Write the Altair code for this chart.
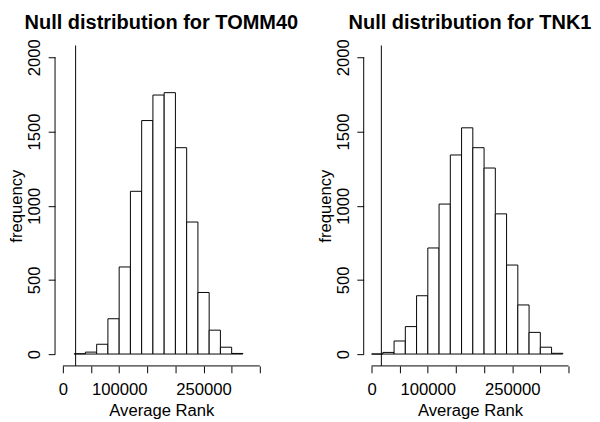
import altair as alt
import pandas as pd

# ---- data ----
bin_width = 20000
tomm40_bin_start = 20000
tomm40_counts = [2, 13, 66, 238, 587, 1097, 1574, 1746, 1762, 1391, 890, 415, 161, 46, 4]
tnk1_bin_start = 0
tnk1_counts = [0, 11, 88, 185, 393, 715, 1011, 1342, 1525, 1391, 1254, 945, 600, 331, 146, 46, 5]
tomm40_observed = 22600
tnk1_observed = 17400
titles = ["Null distribution for TOMM40", "Null distribution for TNK1"]
x_ticks = [0, 50000, 100000, 150000, 200000, 250000, 300000, 350000]
x_labels_shown = [0, 100000, 250000]
y_ticks = [0, 500, 1000, 1500, 2000]
x_title = "Average Rank"
y_title = "frequency"

FONT = "Liberation Sans"
X_DOM = [-14000, 364000]
Y_DOM = [-80, 2080]
W, H = 217, 327


def panel(title, start, counts, observed):
    x0 = [start + i * bin_width for i in range(len(counts))]
    df = pd.DataFrame({"x0": x0, "x1": [v + bin_width for v in x0],
                       "base": [0] * len(counts), "count": counts})
    xs = alt.Scale(domain=X_DOM, nice=False, zero=False)
    ys = alt.Scale(domain=Y_DOM, nice=False, zero=False)
    cond = " || ".join(f"datum.value == {v}" for v in x_labels_shown)
    xaxis = alt.Axis(values=x_ticks, format="d", labelExpr=f"({cond}) ? datum.label : ''",
                     grid=False, domain=False, tickSize=7, tickColor="black", tickWidth=1,
                     labelAlign="center", labelBaseline="top", labelAngle=0,
                     labelPadding=9, labelFont=FONT, labelFontSize=17, labelColor="black",
                     labelFlush=False, labelOverlap=False,
                     title=x_title, titleFont=FONT, titleFontSize=17, titleFontWeight="normal",
                     titleColor="black", titlePadding=6)
    yaxis = alt.Axis(values=y_ticks, format="d", grid=False, domain=False, tickSize=7,
                     tickColor="black", tickWidth=1, labelAngle=270, labelAlign="center",
                     labelBaseline="alphabetic", labelPadding=9, labelFont=FONT,
                     labelFontSize=17, labelColor="black", labelOverlap=False, labelFlush=False,
                     title=y_title, titleFont=FONT, titleFontSize=17, titleFontWeight="normal",
                     titleColor="black", titleAngle=270, titleBaseline="alphabetic",
                     titleAlign="center", titleX=-34)
    bars = alt.Chart(df).mark_rect(fill="white", stroke="black", strokeWidth=1).encode(
        x=alt.X("x0:Q", scale=xs, axis=xaxis),
        x2="x1:Q",
        y=alt.Y("base:Q", scale=ys, axis=yaxis),
        y2="count:Q",
    )
    obs = alt.Chart(pd.DataFrame({"obs": [observed]})).mark_rule(
        color="black", strokeWidth=1).encode(x=alt.X("obs:Q", scale=xs, axis=xaxis))
    xline = alt.Chart(pd.DataFrame({"a": [x_ticks[0]], "b": [x_ticks[-1]], "y": [Y_DOM[0]]})).mark_rule(
        color="black", strokeWidth=1).encode(
        x=alt.X("a:Q", scale=xs, axis=xaxis), x2="b:Q", y=alt.Y("y:Q", scale=ys, axis=yaxis))
    yline = alt.Chart(pd.DataFrame({"x": [X_DOM[0]], "a": [y_ticks[0]], "b": [y_ticks[-1]]})).mark_rule(
        color="black", strokeWidth=1).encode(
        x=alt.X("x:Q", scale=xs, axis=xaxis), y=alt.Y("a:Q", scale=ys, axis=yaxis), y2="b:Q")
    return alt.layer(bars, obs, xline, yline).properties(
        width=W, height=H,
        title=alt.TitleParams(text=title, font=FONT, fontSize=20.4, fontWeight="bold",
                              color="black", anchor="middle", frame="group", offset=6),
    )


left = panel(titles[0], tomm40_bin_start, tomm40_counts, tomm40_observed)
right = panel(titles[1], tnk1_bin_start, tnk1_counts, tnk1_observed)

chart = alt.hconcat(left, right, spacing=98, bounds="flush").properties(
    padding=0, background="white"
).configure_view(stroke=None).configure_axis(labelOverlap=False)

chart.save("out.html", embed_options={"renderer": "svg", "actions": False})
